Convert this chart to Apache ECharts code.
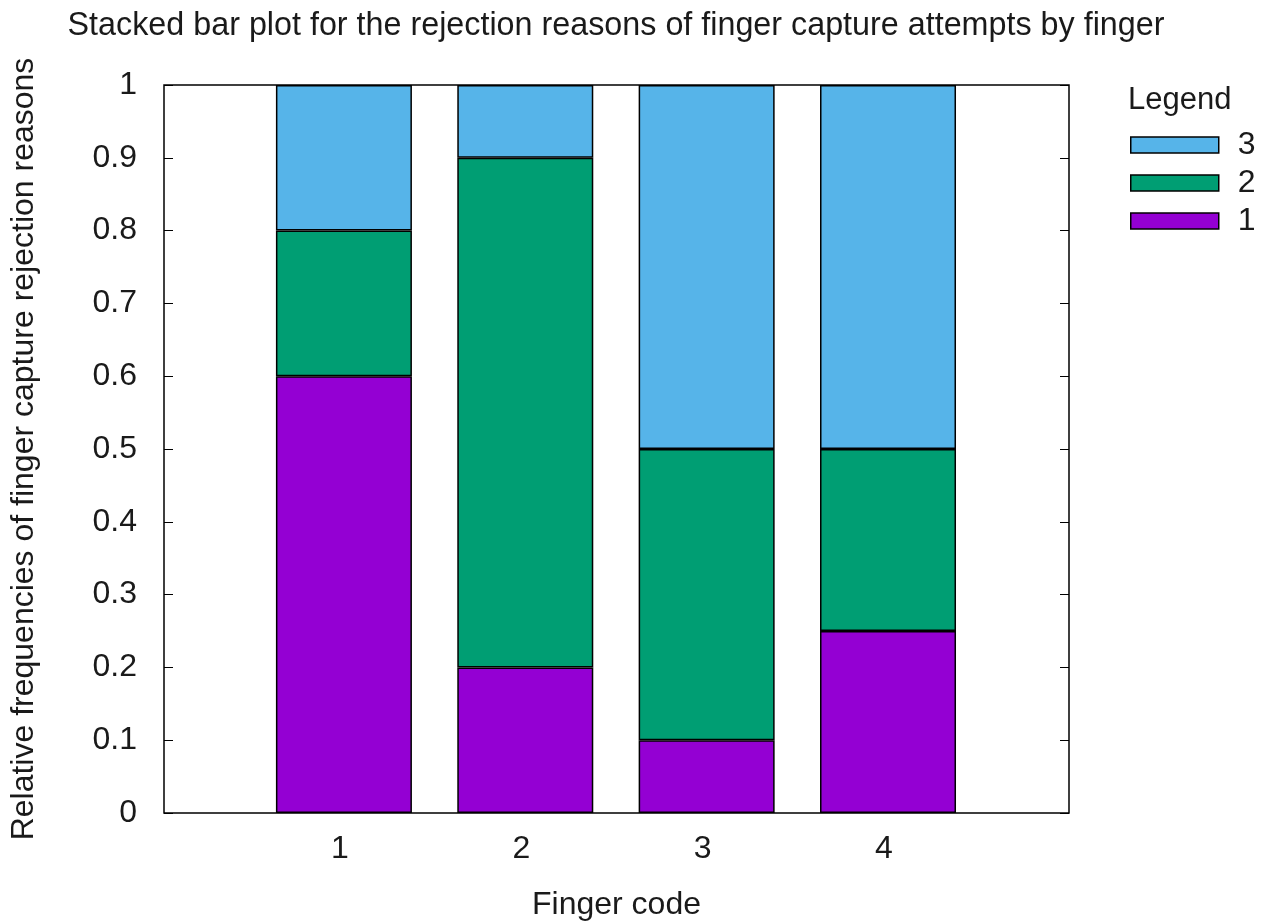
<!DOCTYPE html>
<html>
<head>
<meta charset="utf-8">
<script src="https://cdn.jsdelivr.net/npm/echarts@6/dist/echarts.min.js"></script>
<style>
  html, body { margin: 0; padding: 0; background: #fff; }
  #chart { width: 1262px; height: 921px; }
</style>
</head>
<body>
<div id="chart"></div>
<script>
// Finger codes on the x axis
const fingers = [1, 2, 3, 4];
// Relative frequency of each rejection reason per finger
const reason1 = [0.6, 0.2, 0.1, 0.25];
const reason2 = [0.2, 0.7, 0.4, 0.25];
const reason3 = [0.2, 0.1, 0.5, 0.5];
const yTicks = [0, 0.1, 0.2, 0.3, 0.4, 0.5, 0.6, 0.7, 0.8, 0.9, 1];
const legendOrder = ['3', '2', '1'];

const FONT = 'Liberation Sans';
const TXT = '#1a1a1a';
const FS = 32;

// Plot frame (pixels) and x range of the framed area
const PLOT = { left: 164, top: 85, width: 905, height: 728 };
const X_MIN = 0.03, X_MAX = 5.02;
const pxPerUnit = PLOT.width / (X_MAX - X_MIN);
// Inner grid holding the category bars: one band per finger, centred on each finger code
// (boxes sit a few pixels right of the tick, as in gnuplot histograms)
const BAR_NUDGE = 4;
const barLeft = PLOT.left + (fingers[0] - 0.5 - X_MIN) * pxPerUnit + BAR_NUDGE;
const barWidthPx = fingers.length * pxPerUnit;

const chart = echarts.init(document.getElementById('chart'), null, { renderer: 'canvas' });

function barSeries(name, values, color) {
  return {
    name: name,
    type: 'bar',
    stack: 'reasons',
    xAxisIndex: 1,
    yAxisIndex: 2,
    barWidth: 136,
    data: values,
    itemStyle: { color: color, borderColor: '#000', borderWidth: 1.5 },
    emphasis: { disabled: true }
  };
}

chart.setOption({
  animation: false,
  backgroundColor: '#fff',
  textStyle: { fontFamily: FONT, color: TXT },
  title: {
    text: 'Stacked bar plot for the rejection reasons of finger capture attempts by finger',
    left: 611,
    textAlign: 'center',
    top: 5,
    textStyle: { fontFamily: FONT, fontSize: 32.3, fontWeight: 'normal', color: TXT }
  },
  graphic: [{
    type: 'text',
    left: 1128,
    top: 85,
    style: { text: 'Legend', fontFamily: FONT, fontSize: 31, fill: TXT }
  }],
  legend: {
    orient: 'vertical',
    left: 1130,
    top: 129,
    padding: 0,
    itemWidth: 88,
    itemHeight: 16,
    itemGap: 6,
    icon: 'rect',
    data: legendOrder,
    textStyle: { fontFamily: FONT, fontSize: FS, color: TXT, padding: [0, 0, 0, 14] },
    itemStyle: { borderColor: '#000', borderWidth: 1.5 },
    selectedMode: false
  },
  grid: [{
    left: PLOT.left, top: PLOT.top, width: PLOT.width, height: PLOT.height,
    outerBoundsMode: 'none',
    containLabel: false,
    show: true, borderColor: '#000', borderWidth: 1.5, backgroundColor: 'transparent'
  }, {
    left: barLeft, top: PLOT.top, width: barWidthPx, height: PLOT.height,
    outerBoundsMode: 'none',
    containLabel: false
  }],
  xAxis: [{
    type: 'value',
    gridIndex: 0,
    min: X_MIN,
    max: X_MAX,
    name: 'Finger code',
    nameLocation: 'middle',
    nameGap: 76,
    nameTextStyle: { fontFamily: FONT, fontSize: FS, color: TXT },
    axisLine: { show: false },
    splitLine: { show: false },
    axisTick: { inside: true, length: 9, customValues: fingers, lineStyle: { color: '#000' } },
    axisLabel: { customValues: fingers, fontFamily: FONT, fontSize: FS, color: TXT, margin: 20 }
  }, {
    type: 'category',
    gridIndex: 1,
    data: fingers.map(String),
    show: false
  }],
  yAxis: [{
    type: 'value',
    gridIndex: 0,
    min: 0,
    max: 1,
    interval: 0.1,
    name: 'Relative frequencies of finger capture rejection reasons',
    nameLocation: 'middle',
    nameGap: 124,
    nameTextStyle: { fontFamily: FONT, fontSize: FS, color: TXT },
    axisLine: { show: false },
    splitLine: { show: false },
    axisTick: { inside: true, length: 9, lineStyle: { color: '#000' } },
    axisLabel: {
      fontFamily: FONT, fontSize: FS, color: TXT, margin: 27,
      customValues: yTicks,
      formatter: v => String(v)
    }
  }, {
    type: 'value',
    gridIndex: 0,
    position: 'right',
    min: 0,
    max: 1,
    interval: 0.1,
    axisLine: { show: false },
    splitLine: { show: false },
    axisTick: { inside: true, length: 9, lineStyle: { color: '#000' } },
    axisLabel: { show: false }
  }, {
    type: 'value',
    gridIndex: 1,
    min: 0,
    max: 1,
    show: false
  }],
  series: [
    barSeries('1', reason1, '#9400d3'),
    barSeries('2', reason2, '#009e73'),
    barSeries('3', reason3, '#56b4e9')
  ]
});
</script>
</body>
</html>
